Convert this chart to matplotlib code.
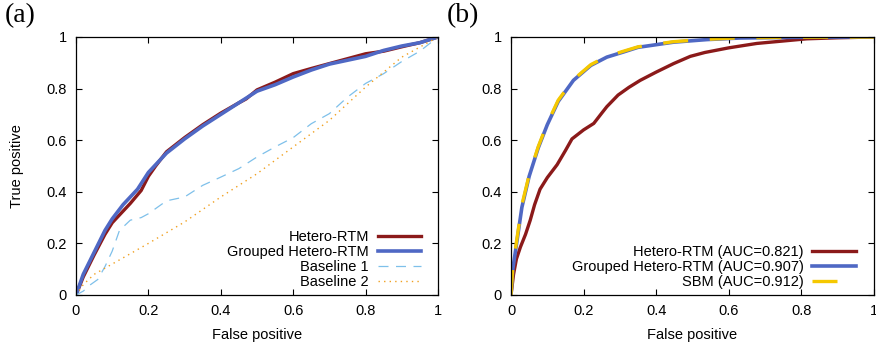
import matplotlib.pyplot as plt

plt.rcParams['font.family'] = ['Liberation Sans', 'DejaVu Sans']

# panel (a)
a_fp_hetero = [0, 0.02, 0.05, 0.08, 0.1, 0.15, 0.18, 0.2, 0.22, 0.25, 0.3, 0.35, 0.4, 0.45, 0.47,
               0.5, 0.55, 0.6, 0.65, 0.7, 0.8, 0.85, 0.9, 0.95, 1]
a_tp_hetero = [0, 0.07, 0.155, 0.235, 0.28, 0.355, 0.405, 0.46, 0.5, 0.555, 0.61, 0.66, 0.705, 0.745, 0.76,
               0.795, 0.825, 0.858, 0.878, 0.897, 0.935, 0.945, 0.962, 0.978, 1]
a_fp_grouped = [0, 0.02, 0.05, 0.08, 0.1, 0.13, 0.15, 0.17, 0.2, 0.25, 0.3, 0.35, 0.4, 0.45, 0.5,
                0.55, 0.6, 0.65, 0.7, 0.8, 0.85, 0.9, 0.95, 1]
a_tp_grouped = [0, 0.08, 0.165, 0.25, 0.295, 0.35, 0.38, 0.41, 0.475, 0.55, 0.605, 0.655, 0.7, 0.745, 0.79,
                0.815, 0.845, 0.872, 0.895, 0.925, 0.948, 0.965, 0.978, 1]
a_fp_base1 = [0, 0.02, 0.04, 0.06, 0.08, 0.1, 0.12, 0.15, 0.18, 0.2, 0.25, 0.3, 0.35, 0.4, 0.45, 0.5,
              0.55, 0.6, 0.65, 0.7, 0.75, 0.8, 0.85, 0.9, 0.95, 1]
a_tp_base1 = [0, 0.015, 0.04, 0.06, 0.11, 0.17, 0.25, 0.29, 0.3, 0.315, 0.365, 0.38, 0.425, 0.457, 0.49, 0.535,
              0.574, 0.61, 0.664, 0.703, 0.767, 0.82, 0.858, 0.905, 0.945, 1]
a_fp_base2 = [0, 0.02, 0.05, 0.1, 0.2, 0.3, 0.4, 0.5, 0.6, 0.7, 0.8, 0.9, 1]
a_tp_base2 = [0, 0.04, 0.08, 0.12, 0.2, 0.283, 0.38, 0.47, 0.574, 0.677, 0.806, 0.922, 1]

# panel (b)
b_fp_hetero = [0, 0.007, 0.015, 0.026, 0.04, 0.053, 0.065, 0.08, 0.1, 0.127, 0.15, 0.168, 0.2, 0.228, 0.25,
               0.264, 0.295, 0.325, 0.356, 0.4, 0.448, 0.494, 0.534, 0.6, 0.677, 0.769, 0.815, 0.9, 1]
b_tp_hetero = [0, 0.08, 0.14, 0.186, 0.235, 0.29, 0.35, 0.41, 0.455, 0.505, 0.56, 0.605, 0.64, 0.665, 0.705,
               0.73, 0.775, 0.805, 0.832, 0.864, 0.897, 0.925, 0.94, 0.958, 0.975, 0.987, 0.993, 0.997, 1]
b_fp_grouped = [0, 0.005, 0.0165, 0.03, 0.05, 0.075, 0.1, 0.13, 0.172, 0.22, 0.264, 0.31, 0.35,
                0.448, 0.54, 0.63, 0.8, 1]
b_tp_grouped = [0, 0.1, 0.21, 0.34, 0.46, 0.57, 0.66, 0.75, 0.832, 0.89, 0.922, 0.942, 0.96,
                0.98, 0.99, 0.996, 0.999, 1]
b_fp_sbm = b_fp_grouped
b_tp_sbm = [0, 0.11, 0.22, 0.35, 0.465, 0.575, 0.665, 0.755, 0.835, 0.893, 0.925, 0.945, 0.962,
            0.982, 0.991, 0.997, 0.999, 1]

labels_a = ['Hetero-RTM', 'Grouped Hetero-RTM', 'Baseline 1', 'Baseline 2']
labels_b = ['Hetero-RTM (AUC=0.821)', 'Grouped Hetero-RTM (AUC=0.907)', 'SBM (AUC=0.912)']
ticks = [0, 0.2, 0.4, 0.6, 0.8, 1]
tick_labels = ['0', '0.2', '0.4', '0.6', '0.8', '1']

red = '#8b1a1a'
blue = '#4f68c4'
fs = 10.5

fig = plt.figure(figsize=(8.76, 3.45), dpi=100)
ax1 = fig.add_axes([76 / 876, 50 / 345, 362 / 876, 258 / 345])
ax2 = fig.add_axes([511 / 876, 50 / 345, 363 / 876, 258 / 345])

ax1.plot(a_fp_hetero, a_tp_hetero, color=red, lw=2.4, label=labels_a[0])
ax1.plot(a_fp_grouped, a_tp_grouped, color=blue, lw=2.6, label=labels_a[1])
ax1.plot(a_fp_base1, a_tp_base1, color='#7ec0ea', lw=0.9, dashes=(8, 6), label=labels_a[2])
ax1.plot(a_fp_base2, a_tp_base2, color='#f0a020', lw=1.0, dashes=(1, 3), label=labels_a[3])

ax2.plot(b_fp_hetero, b_tp_hetero, color=red, lw=2.4, label=labels_b[0])
ax2.plot(b_fp_grouped, b_tp_grouped, color=blue, lw=2.6, label=labels_b[1])
ax2.plot(b_fp_sbm, b_tp_sbm, color='#f5c800', lw=2.4, dashes=(7.5, 6.5), label=labels_b[2])

anchors = {ax1: (0.97, 0.0), ax2: (0.967, 0.0)}
for ax in (ax1, ax2):
    ax.set_xlim(0, 1)
    ax.set_ylim(0, 1)
    ax.set_xticks(ticks)
    ax.set_xticklabels(tick_labels)
    ax.set_yticks(ticks)
    ax.set_yticklabels(tick_labels)
    ax.tick_params(direction='in', length=4, width=0.8, top=True, right=True, labelsize=fs, pad=6.5)
    for s in ax.spines.values():
        s.set_linewidth(0.9)
    ax.set_xlabel('False positive', fontsize=fs, labelpad=7)
    ax.legend(loc='lower right', bbox_to_anchor=anchors[ax], borderaxespad=0,
              frameon=False, markerfirst=False, fontsize=fs,
              handlelength=3.0, labelspacing=0.08, handletextpad=0.6)

ax1.set_ylabel('True positive', fontsize=fs, labelpad=16)

fig.text(5 / 876, 1 - 3 / 345, '(a)', fontsize=20, family='Liberation Serif', va='top')
fig.text(447 / 876, 1 - 3 / 345, '(b)', fontsize=20, family='Liberation Serif', va='top')

fig.savefig('out.png', dpi=100)
